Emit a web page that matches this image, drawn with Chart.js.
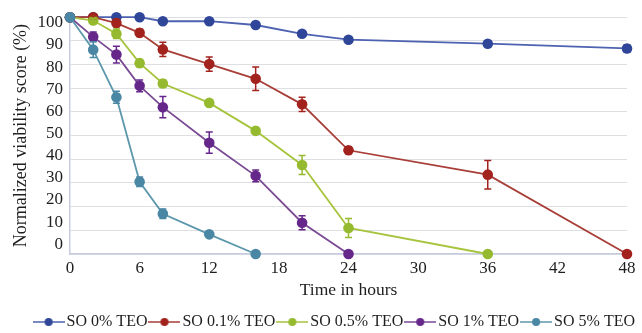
<!DOCTYPE html>
<html><head><meta charset="utf-8">
<script src="https://cdn.jsdelivr.net/npm/chart.js@4"></script>
<style>html,body{margin:0;padding:0;background:#fff;}#wrap{width:642px;height:333px;}</style>
</head><body><div id="wrap"><canvas id="c" width="642" height="333"></canvas></div>
<script>
// ---- data ----
const hours = [0, 2, 4, 6, 8, 12, 16, 20, 24, 36, 48];
const seriesNames = ['SO 0% TEO', 'SO 0.1% TEO', 'SO 0.5% TEO', 'SO 1% TEO', 'SO 5% TEO'];
const so0 = [100, 100, 100, 100, 98.3, 98.3, 96.7, 93, 90.5, 88.8, 86.8];
const so0Err = [0, 0, 0, 0, 0.5, 0.5, 0.5, 0.8, 1.2, 1.2, 1.5];
const so01 = [100, 100, 97.5, 93.4, 86.4, 80.2, 74, 63.2, 43.8, 33.5, 0];
const so01Err = [0, 0.5, 1.5, 1.5, 3, 3, 5, 3, 1.5, 6, 0];
const so05 = [100, 98.6, 93, 80.6, 72, 63.8, 52, 37.6, 11, 0];
const so05Err = [0, 1, 2, 1.5, 1.5, 1, 1, 4, 4, 0];
const so1 = [100, 91.7, 84.2, 71, 62, 47, 33, 13.2, 0];
const so1Err = [0, 2, 3.5, 2.5, 4.5, 4.5, 2.5, 3, 0];
const so5 = [100, 86.3, 66.2, 30.5, 17, 8.3, 0];
const so5Err = [0, 3.3, 2.5, 2, 2, 1, 0];
const xTickLabels = [0, 6, 12, 18, 24, 30, 36, 42, 48];
const yTickLabels = [0, 10, 20, 30, 40, 50, 60, 70, 80, 90, 100];

const seriesValues = [so0, so01, so05, so1, so5];
const seriesErrors = [so0Err, so01Err, so05Err, so1Err, so5Err];
const lineColors = ['#4d62b0', '#a83e37', '#a6c43c', '#7a4a94', '#5c97ac'];
const dotColors = ['#2f4699', '#a2221d', '#95ba2f', '#66278a', '#4a87a4'];
const serif = "'Liberation Serif', 'Times New Roman', serif";
const textColor = '#1e1e1e';

function makeIcon(lineColor, dotColor) {
  const c = document.createElement('canvas');
  c.width = 32; c.height = 10;
  const g = c.getContext('2d');
  g.strokeStyle = lineColor; g.lineWidth = 1.5;
  g.beginPath(); g.moveTo(0, 5); g.lineTo(32, 5); g.stroke();
  g.fillStyle = dotColor;
  g.beginPath(); g.arc(16, 5, 4, 0, Math.PI * 2); g.fill();
  return c;
}
const legendIcons = seriesNames.map((n, i) => makeIcon(lineColors[i], dotColors[i]));

const datasets = seriesNames.map((name, i) => ({
  label: name,
  data: seriesValues[i].map((v, j) => ({x: hours[j], y: v})),
  borderColor: lineColors[i],
  backgroundColor: dotColors[i],
  pointBackgroundColor: dotColors[i],
  pointBorderColor: dotColors[i],
  pointBorderWidth: 0,
  pointRadius: 5.3,
  borderWidth: 1.8,
  tension: 0,
  clip: false,
  order: 5 - i,
  xAxisID: 'x',
  yAxisID: 'y'
}));

const errorBars = {
  id: 'errorBars',
  afterDatasetsDraw(chart) {
    const ctx = chart.ctx, xs = chart.scales.x, ys = chart.scales.y;
    chart.data.datasets.forEach((ds, i) => {
      const errs = seriesErrors[i];
      ds.data.forEach((p, j) => {
        const e = errs[j];
        if (!e) return;
        const x = xs.getPixelForValue(p.x);
        const y1 = ys.getPixelForValue(p.y - e);
        const y2 = ys.getPixelForValue(p.y + e);
        ctx.save();
        ctx.strokeStyle = dotColors[i];
        ctx.lineWidth = 1.5;
        ctx.beginPath();
        ctx.moveTo(x, y1); ctx.lineTo(x, y2);
        ctx.moveTo(x - 3.5, y1); ctx.lineTo(x + 3.5, y1);
        ctx.moveTo(x - 3.5, y2); ctx.lineTo(x + 3.5, y2);
        ctx.stroke();
        ctx.restore();
      });
    });
  }
};

new Chart(document.getElementById('c'), {
  type: 'line',
  data: {datasets},
  plugins: [errorBars],
  options: {
    responsive: false,
    animation: false,
    devicePixelRatio: 1,
    layout: {padding: {top: 15, right: 0, left: 0, bottom: -7}},
    plugins: {
      tooltip: {enabled: false},
      legend: {
        position: 'bottom',
        align: 'end',
        labels: {
          usePointStyle: true,
          pointStyleWidth: 20,
          padding: 7,
          color: textColor,
          font: {family: serif, size: 16},
          generateLabels(chart) {
            return chart.data.datasets.map((ds, i) => ({
              text: ds.label,
              fillStyle: dotColors[i],
              strokeStyle: dotColors[i],
              lineWidth: 0,
              pointStyle: legendIcons[i],
              hidden: false,
              datasetIndex: i,
              fontColor: textColor
            }));
          }
        }
      }
    },
    scales: {
      x: {
        type: 'linear',
        position: 'bottom',
        min: 0, max: 48,
        afterBuildTicks(s) { s.ticks = xTickLabels.map(v => ({value: v})); },
        afterFit(s) { s.height = 53; },
        grid: {display: false, drawTicks: false},
        border: {display: true, color: '#c6cde0', width: 1.5},
        ticks: {autoSkip: false, maxRotation: 0, padding: 4, color: textColor, font: {family: serif, size: 17}},
        title: {display: true, text: 'Time in hours', color: textColor, font: {family: serif, size: 17.5}, padding: {top: 0, bottom: 6}}
      },
      y: {
        type: 'linear',
        position: 'left',
        weight: 0,
        min: 0, max: 100,
        afterBuildTicks(s) { s.ticks = yTickLabels.map(v => ({value: v})); },
        afterFit(s) { s.width = 0; },
        grid: {color: '#dedfe3', lineWidth: 1, drawTicks: false},
        border: {display: true, color: '#c6cde0', width: 1.5},
        ticks: {display: false}
      },
      yLabels: {
        type: 'linear',
        position: 'left',
        weight: 1,
        min: -4.4, max: 102.5,
        afterBuildTicks(s) { s.ticks = yTickLabels.map(v => ({value: v})); },
        afterFit(s) { s.width = 70; },
        grid: {display: false, drawTicks: false},
        border: {display: false},
        ticks: {autoSkip: false, padding: 7, color: textColor, font: {family: serif, size: 17}, callback: v => String(v)},
        title: {display: true, text: 'Normalized viability score (%)', color: textColor, font: {family: serif, size: 18}, padding: {top: 10, bottom: 0}}
      },
      rightSpace: {
        type: 'linear',
        position: 'right',
        display: true,
        afterFit(s) { s.width = 15; },
        grid: {display: false, drawTicks: false},
        border: {display: false},
        ticks: {display: false}
      }
    }
  }
});
</script>
</body></html>
